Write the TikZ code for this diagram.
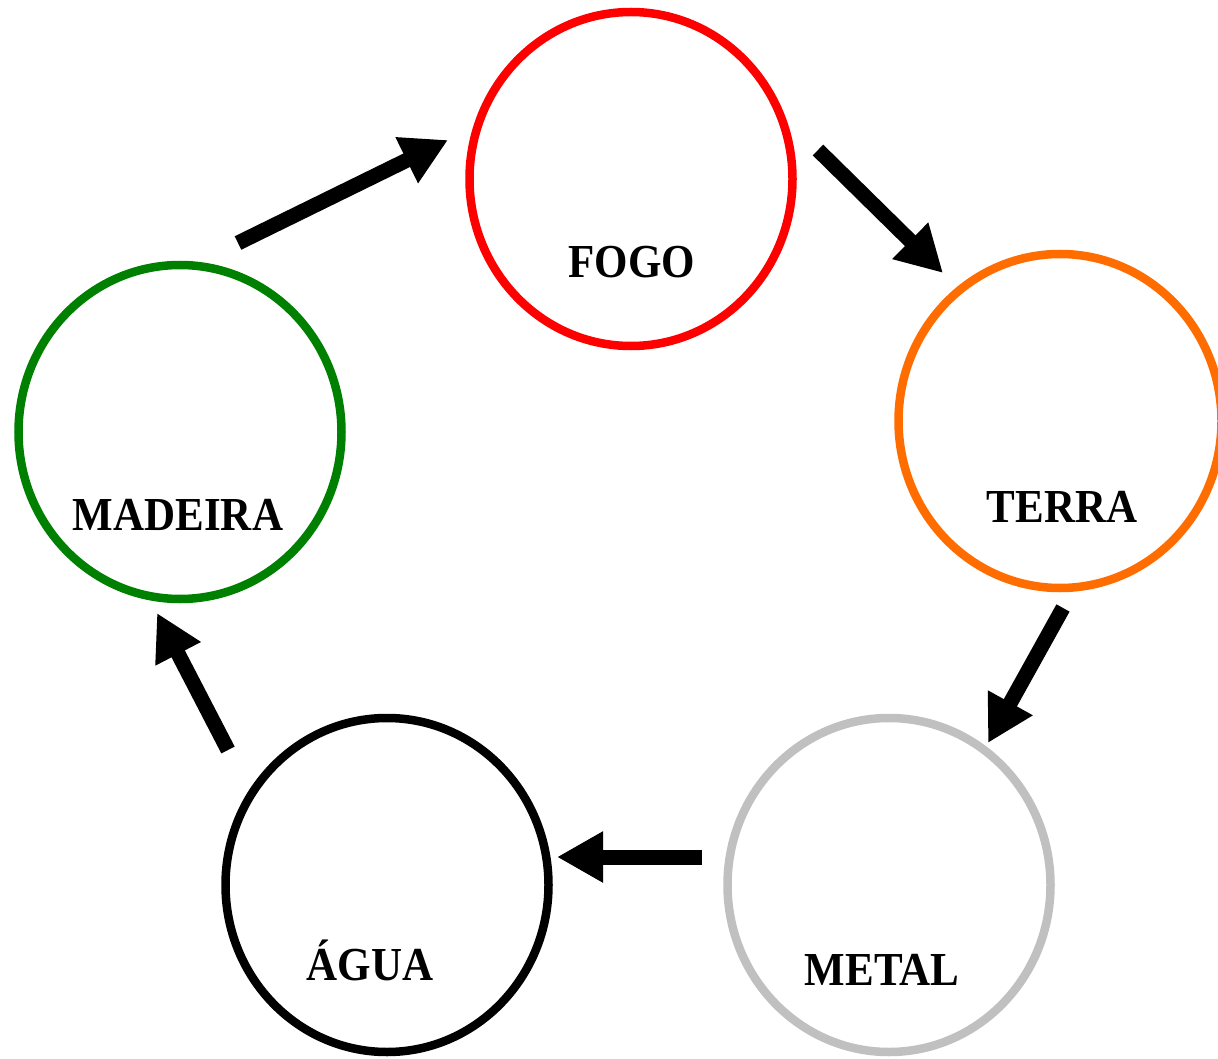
\documentclass[tikz,border=0pt]{standalone}
\usepackage{fontspec}
\setmainfont{Liberation Serif}
\usetikzlibrary{shapes.geometric,arrows.meta}
\definecolor{fogored}{RGB}{255,0,0}
\definecolor{terraorange}{RGB}{255,108,0}
\definecolor{madeiragreen}{RGB}{0,128,0}
\definecolor{metalgray}{RGB}{192,192,192}
\newcommand{\elabel}[1]{\scalebox{1}[1.1]{#1}}
\begin{document}
\begin{tikzpicture}[x=1pt,y=-1pt,
  ring/.style={draw, ellipse, line width=8.5pt, minimum width=323pt, minimum height=334pt, inner sep=0pt},
  elname/.style={anchor=base, inner sep=0pt, font=\fontsize{43}{48}\selectfont\bfseries},
  flow/.style={line width=15pt, -{Triangle[length=46pt,width=48pt]}}]
\useasboundingbox (0,0) rectangle (1218,1059);
\node[ring, fogored] (fogo) at (631,179) {};
\node[ring, terraorange] (terra) at (1060,421) {};
\node[ring, madeiragreen] (madeira) at (180,432) {};
\node[ring, metalgray] (metal) at (889,885) {};
\node[ring, black] (agua) at (387,885) {};
\node[elname] (tfogo) at (632,278) {\elabel{FOGO}};
\node[elname] (tterra) at (1062,522) {\elabel{TERRA}};
\node[elname] (tmadeira) at (178,530) {\elabel{MADEIRA}};
\node[elname] (tmetal) at (882,985) {\elabel{METAL}};
\node[elname] (tagua) at (370,980) {\elabel{ÁGUA}};
\coordinate (a1s) at (238,243);
\coordinate (a1e) at (448,140);
\coordinate (a2s) at (818,150);
\coordinate (a2e) at (943,273);
\coordinate (a3s) at (1063,608);
\coordinate (a3e) at (988,743);
\coordinate (a4s) at (702,857);
\coordinate (a4e) at (557,857);
\coordinate (a5s) at (228,750);
\coordinate (a5e) at (157,613);
\draw[flow] (a1s) -- (a1e);
\draw[flow] (a2s) -- (a2e);
\draw[flow] (a3s) -- (a3e);
\draw[flow] (a4s) -- (a4e);
\draw[flow] (a5s) -- (a5e);
\end{tikzpicture}
\end{document}
